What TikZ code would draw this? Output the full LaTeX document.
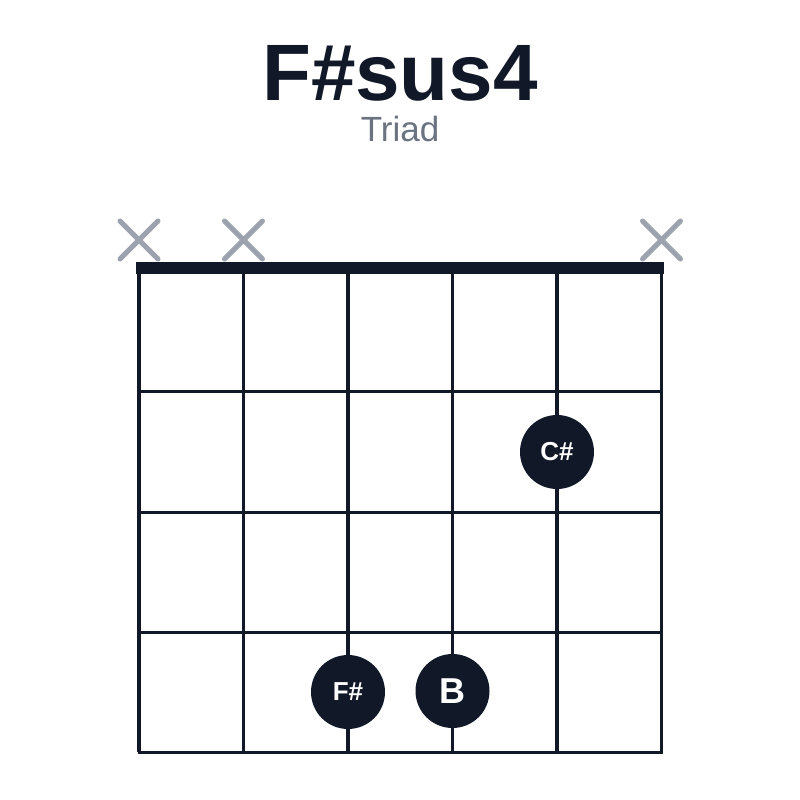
\documentclass[tikz,border=0pt]{standalone}
\usepackage{fontspec}
\setmainfont{Liberation Sans}
\definecolor{ink}{HTML}{111827}
\definecolor{xgray}{HTML}{9CA3AF}
\definecolor{subgray}{HTML}{6B7280}

\begin{document}
\begin{tikzpicture}[x=1pt,y=-1pt,
  finger/.style={circle,fill=ink,minimum size=74pt,inner sep=0pt,text=white,
    font=\bfseries\fontsize{26}{26}\selectfont},
  openx/.style={xgray,line width=5pt,line cap=round}]
\useasboundingbox (0,0) rectangle (800,800);
% title
\node[anchor=base,text=ink,inner sep=0pt] (name) at (400,100) {\fontsize{80}{80}\selectfont\bfseries F\#sus4};
\node[anchor=base,text=subgray,inner sep=0pt] (kind) at (400,141.5) {\fontsize{35}{35}\selectfont Triad};
% strings and frets
\foreach \s in {0,...,5}
  \draw[ink,line width=3.5pt] (139+\s*104.5,268) -- (139+\s*104.5,752);
\foreach \f in {391.5,512,632,752}
  \draw[ink,line width=3pt] (137.5,\f) -- (663,\f);
\fill[ink] (136,261.5) rectangle (664,273.5);
% muted strings
\foreach \s in {0,1,5}
  \draw[openx] (139+\s*104.5-19,221) -- (139+\s*104.5+19,259)
               (139+\s*104.5-19,259) -- (139+\s*104.5+19,221);
% fingers
\node[finger] (csharp) at (557,452) {C\#};
\node[finger] (fsharp) at (348,692) {F\#};
\node[finger,font=\bfseries\fontsize{36}{36}\selectfont] (b) at (452.5,691) {B};
\end{tikzpicture}
\end{document}
